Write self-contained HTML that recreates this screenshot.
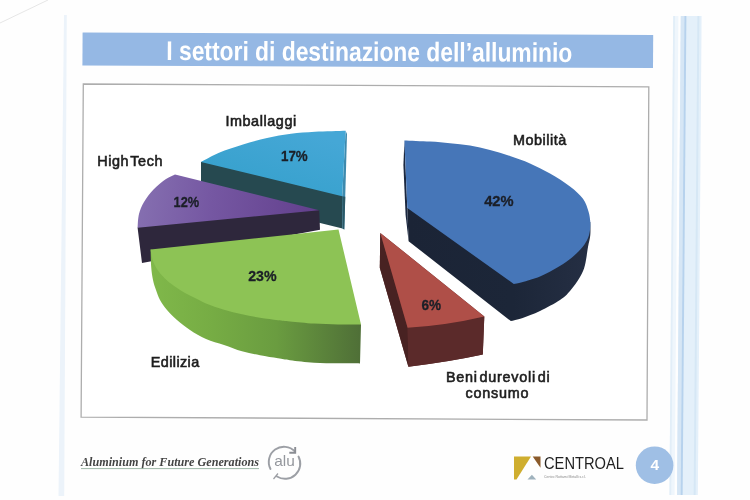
<!DOCTYPE html>
<html lang="it">
<head>
<meta charset="utf-8">
<title>I settori di destinazione dell'alluminio</title>
<style>
html,body{margin:0;padding:0;background:#fefefe;}
body{width:750px;height:500px;overflow:hidden;position:relative;font-family:"Liberation Sans",sans-serif;}
svg{position:absolute;left:0;top:0;display:block;}
text{font-family:"Liberation Sans",sans-serif;}
.lbl{font-weight:normal;font-size:14.4px;fill:#1e1e1e;stroke:#1e1e1e;stroke-width:0.6px;}
.pct{font-weight:bold;font-size:15.2px;fill:#1b1f27;stroke:#1b1f27;stroke-width:0.3px;}
</style>
</head>
<body>
<svg width="750" height="500" viewBox="0 0 750 500">
<defs>
  <linearGradient id="gGreenSide" gradientUnits="userSpaceOnUse" x1="150" y1="0" x2="361" y2="0">
    <stop offset="0" stop-color="#80b84a"/>
    <stop offset="0.3" stop-color="#76ac44"/>
    <stop offset="0.6" stop-color="#6a9c40"/>
    <stop offset="1" stop-color="#4f6f37"/>
  </linearGradient>
  <linearGradient id="gBlueSide" gradientUnits="userSpaceOnUse" x1="408" y1="0" x2="592" y2="0">
    <stop offset="0" stop-color="#1b2436"/>
    <stop offset="0.57" stop-color="#1c2638"/>
    <stop offset="1" stop-color="#252f44"/>
  </linearGradient>
  <linearGradient id="gCyanTop" gradientUnits="userSpaceOnUse" x1="300" y1="131" x2="280" y2="196">
    <stop offset="0" stop-color="#45a7d6"/>
    <stop offset="1" stop-color="#37a1cd"/>
  </linearGradient>
  <linearGradient id="gPurpleTop" gradientUnits="userSpaceOnUse" x1="140" y1="190" x2="320" y2="212">
    <stop offset="0" stop-color="#856fb0"/>
    <stop offset="0.4" stop-color="#7557a2"/>
    <stop offset="1" stop-color="#623f8c"/>
  </linearGradient>
</defs>

<!-- page background -->
<rect x="0" y="0" width="750" height="500" fill="#fefefe"/>
<!-- faint scan line top-left -->
<line x1="0" y1="23" x2="48" y2="0" stroke="#e6e6e6" stroke-width="1"/>
<!-- left page edge -->
<polygon points="64,15 66.8,15 64.2,496 58.5,496" fill="#ecf3fa"/>
<!-- right stripes -->
<g transform="rotate(0.45 686 16)">
<rect x="673.2" y="16" width="5.2" height="479" fill="#eff6fc"/>
<rect x="673.2" y="16" width="1.8" height="479" fill="#e2eef8"/>
<rect x="680.8" y="16" width="20.8" height="479" fill="#e4f0fa"/>
<rect x="680.8" y="16" width="3.6" height="479" fill="#d6e6f5"/>
<rect x="684.4" y="16" width="2" height="479" fill="#b7d2ed"/>
<rect x="697.4" y="16" width="2" height="479" fill="#d6e7f5"/>
</g>

<g id="slide">
<!-- title bar -->
<polygon points="82.6,32.4 653.2,35 653,68 82.4,65.6" fill="#95b8e4"/>
<text id="title" x="166.3" y="61" font-size="27" font-weight="bold" fill="#ffffff" textLength="406" lengthAdjust="spacingAndGlyphs" transform="rotate(0.27 369 52)">I settori di destinazione dell’alluminio</text>

<!-- chart frame -->
<polygon points="83.3,84 648.8,86.8 647,420 81.1,417.1" fill="#ffffff" stroke="#adadad" stroke-width="1.3"/>

<!-- ===== Imballaggi (cyan) ===== -->
<path d="M201.0,162.0 L300.0,145.0 L342.2,196.2 L342.5,228.6 L201.0,193.5 Z" fill="#264950"/>
<path d="M345.6,130.8 L347.0,134.0 L344.3,229.4 L342.5,228.6 L342.2,196.2 Z" fill="#3d8aae"/>
<path d="M342.2,196.2 L345.3,196.8 L344.3,229.4 L342.5,228.6 Z" fill="#2a5866"/>
<path d="M201.0,162.0 C204.0,160.5 212.0,155.7 219.0,152.8 C226.0,149.9 235.0,147.1 243.0,144.6 C251.0,142.1 259.0,139.8 267.0,138.0 C275.0,136.2 283.0,134.8 291.0,133.8 C299.0,132.8 305.9,132.3 315.0,131.8 C324.1,131.3 340.5,131.0 345.6,130.8 L342.2,196.2 Z" fill="url(#gCyanTop)"/>

<!-- ===== High Tech (purple) ===== -->
<path d="M137.6,227.7 L170.0,190.0 L319.2,210.2 L320.0,229.8 L142.0,263.0 Z" fill="#2e273c"/>
<path d="M137.6,227.7 C137.8,225.4 137.9,218.3 139.0,214.0 C140.1,209.7 141.5,206.2 144.0,202.0 C146.5,197.8 150.3,192.8 154.0,189.0 C157.7,185.2 162.5,181.4 166.0,179.0 C169.5,176.6 173.5,175.2 175.0,174.4 L319.2,210.2 Z" fill="url(#gPurpleTop)"/>

<!-- ===== Edilizia (green) ===== -->
<path d="M150.6,249.4 C150.7,252.3 150.8,261.9 151.2,267.0 C151.6,272.1 152.2,276.2 153.0,280.0 C153.8,283.8 154.8,286.7 156.0,290.0 C157.2,293.3 158.2,296.7 160.0,300.0 C161.8,303.3 164.2,306.7 167.0,310.0 C169.8,313.3 173.2,316.7 177.0,320.0 C180.8,323.3 185.2,326.8 190.0,330.0 C194.8,333.2 200.3,336.5 206.0,339.0 C211.7,341.5 218.0,342.9 224.0,344.9 C230.0,346.9 236.0,349.5 242.0,351.2 C248.0,352.9 254.0,354.1 260.0,355.3 C266.0,356.5 273.0,357.5 278.0,358.3 C283.0,359.1 284.0,359.4 290.0,360.2 C296.0,360.9 306.0,362.3 314.0,362.8 C322.0,363.3 330.3,363.2 338.0,363.3 C345.7,363.4 356.3,363.4 360.0,363.4 L361.0,324.4 L330.0,300.0 Z" fill="url(#gGreenSide)"/>
<path d="M150.6,249.4 C150.9,251.1 151.4,256.3 152.6,259.8 C153.8,263.3 155.6,267.2 158.0,270.6 C160.4,274.1 164.0,277.7 167.0,280.5 C170.0,283.3 173.0,285.1 176.0,287.2 C179.0,289.3 181.8,291.2 185.0,293.0 C188.2,294.8 191.5,296.3 195.0,298.0 C198.5,299.7 201.2,301.4 206.0,303.4 C210.8,305.3 218.0,307.9 224.0,309.7 C230.0,311.5 236.0,312.8 242.0,314.2 C248.0,315.6 254.0,316.8 260.0,317.8 C266.0,318.8 273.0,319.6 278.0,320.2 C283.0,320.8 284.0,320.9 290.0,321.5 C296.0,322.1 306.0,323.1 314.0,323.6 C322.0,324.1 330.2,324.4 338.0,324.5 C345.8,324.6 357.2,324.4 361.0,324.4 L338.5,229.6 Z" fill="#8dc355"/>

<!-- ===== Mobilità (blue) ===== -->
<path d="M407.3,208.0 L590.3,222.0 C590.3,224.2 590.7,230.8 590.3,235.0 C589.9,239.2 588.9,242.0 588.0,247.0 C587.1,252.0 586.3,260.0 585.0,265.0 C583.7,270.0 582.5,272.7 580.0,277.0 C577.5,281.3 573.3,287.2 570.0,291.0 C566.7,294.8 565.0,296.7 560.0,300.0 C555.0,303.3 546.3,308.0 540.0,311.0 C533.7,314.0 526.9,316.5 522.0,318.2 C517.1,319.9 512.7,320.5 510.8,321.0 L408.6,241.2 Z" fill="url(#gBlueSide)"/>
<path d="M404.4,140.4 L407.3,208.0 L408.6,241.2 L405.6,215.0 L403.4,165.0 Z" fill="#1b2840"/>
<path d="M404.4,140.4 C408.7,140.6 422.4,141.1 430.0,141.6 C437.6,142.1 443.3,142.5 450.0,143.2 C456.7,143.9 463.3,144.5 470.0,145.6 C476.7,146.7 483.3,148.3 490.0,150.0 C496.7,151.7 503.3,153.8 510.0,156.0 C516.7,158.2 523.3,160.5 530.0,163.4 C536.7,166.3 543.3,169.6 550.0,173.4 C556.7,177.2 564.5,182.2 570.0,186.4 C575.5,190.6 579.9,194.6 583.0,198.8 C586.1,203.0 587.3,207.6 588.5,211.5 C589.7,215.4 590.0,218.9 590.3,222.0 C590.5,225.1 590.4,227.3 590.0,230.0 C589.6,232.7 589.2,235.2 588.0,238.0 C586.8,240.8 585.2,243.8 582.5,247.0 C579.8,250.2 575.9,254.2 572.0,257.5 C568.1,260.8 564.3,263.3 559.0,266.5 C553.7,269.7 546.2,273.9 540.0,276.5 C533.8,279.1 526.4,280.9 522.0,282.2 C517.6,283.4 515.2,283.7 513.8,284.0 L407.3,208.0 Z" fill="#4676b8"/>

<!-- ===== Beni durevoli (red) ===== -->
<path d="M380.3,232.9 L484.3,316.5 L482.8,354.6 Q446,362.5 408.4,366.7 L379.8,267.8 Z" fill="#5b2a2a"/>
<path d="M380.3,232.9 L407.6,327.8 L408.4,366.7 L379.8,267.8 Z" fill="#482222"/>
<path d="M407.6,327.8 Q446,325.5 484.3,316.5 L482.8,354.6 Q446,362.5 408.4,366.7 Z" fill="#5b2a2a"/>
<path d="M380.3,232.9 L484.3,316.5 Q446,325.5 407.6,327.8 Z" fill="#af4f48"/>

<!-- labels -->
<text class="lbl" x="225.4" y="125.8" textLength="70.8" lengthAdjust="spacing">Imballaggi</text>
<text class="lbl" x="97.2" y="165.7" textLength="65.2" lengthAdjust="spacing" style="word-spacing:-3px">High Tech</text>
<text class="lbl" x="513" y="144.7" textLength="53.2" lengthAdjust="spacing">Mobilità</text>
<text class="lbl" x="150.8" y="367" textLength="48.4" lengthAdjust="spacing">Edilizia</text>
<text class="lbl" x="446" y="382" textLength="103.6" lengthAdjust="spacing" style="word-spacing:-3px">Beni durevoli di</text>
<text class="lbl" x="465.6" y="398" textLength="62.8" lengthAdjust="spacing">consumo</text>

<text class="pct" x="281" y="161" textLength="26.7" lengthAdjust="spacingAndGlyphs">17%</text>
<text class="pct" x="173.6" y="207" textLength="25.6" lengthAdjust="spacingAndGlyphs">12%</text>
<text class="pct" x="248.2" y="281" textLength="28.4" lengthAdjust="spacingAndGlyphs">23%</text>
<text class="pct" x="484.2" y="205.6" textLength="29.4" lengthAdjust="spacingAndGlyphs">42%</text>
<text class="pct" x="421.4" y="310.4" textLength="19.6" lengthAdjust="spacingAndGlyphs">6%</text>

<!-- footer left -->
<text x="81" y="465.5" style="font-family:'Liberation Serif',serif;font-style:italic;font-weight:bold" font-size="13.2" fill="#444444" textLength="178" lengthAdjust="spacingAndGlyphs">Aluminium for Future Generations</text>
<line x1="81" y1="468.6" x2="259" y2="468.6" stroke="#9fb8a8" stroke-width="1"/>
<!-- alu logo -->
<g fill="none" stroke="#9c9fa5" stroke-width="1.9" stroke-linecap="round">
  <path d="M270.5,469 A15.2,15.2 0 0 1 295,451.5"/>
  <path d="M298.5,456.5 A15.2,15.2 0 0 1 277,476.5"/>
</g>
<path d="M289.3,452.7 L295.2,452.7 L295.2,447" fill="none" stroke="#8a8d93" stroke-width="1.9"/>
<path d="M273.5,479 L278,473.5" fill="none" stroke="#9a9ca2" stroke-width="1.2"/>
<text x="274.2" y="466.4" font-size="14.6" fill="#94979d" textLength="20.6" lengthAdjust="spacingAndGlyphs">alu</text>

<!-- CENTROAL logo -->
<path d="M514,456.5 L531,456.5 L516.5,479.5 L514,479.5 Z" fill="#cfae2f"/>
<path d="M532.7,456.5 L540.5,456.5 L540.5,467.7 Z" fill="#8a5a2a"/>
<path d="M527.5,479.5 L531.9,474.7 L536.2,479.5 Z" fill="#9fb2bd"/>
<text x="544" y="468.7" font-size="16" fill="#1f1f1f" textLength="80" lengthAdjust="spacingAndGlyphs">CENTROAL</text>
<text x="544" y="477.5" font-size="3.6" fill="#8a8a8a" textLength="42" lengthAdjust="spacingAndGlyphs">Centro Rottami Metalli s.r.l.</text>

<!-- page number -->
<circle cx="654.6" cy="465.2" r="18.8" fill="#9fbfe5"/>
<text x="654.8" y="470.3" font-size="15.5" font-weight="bold" fill="#ffffff" text-anchor="middle">4</text>
</g>
</svg>
</body>
</html>
